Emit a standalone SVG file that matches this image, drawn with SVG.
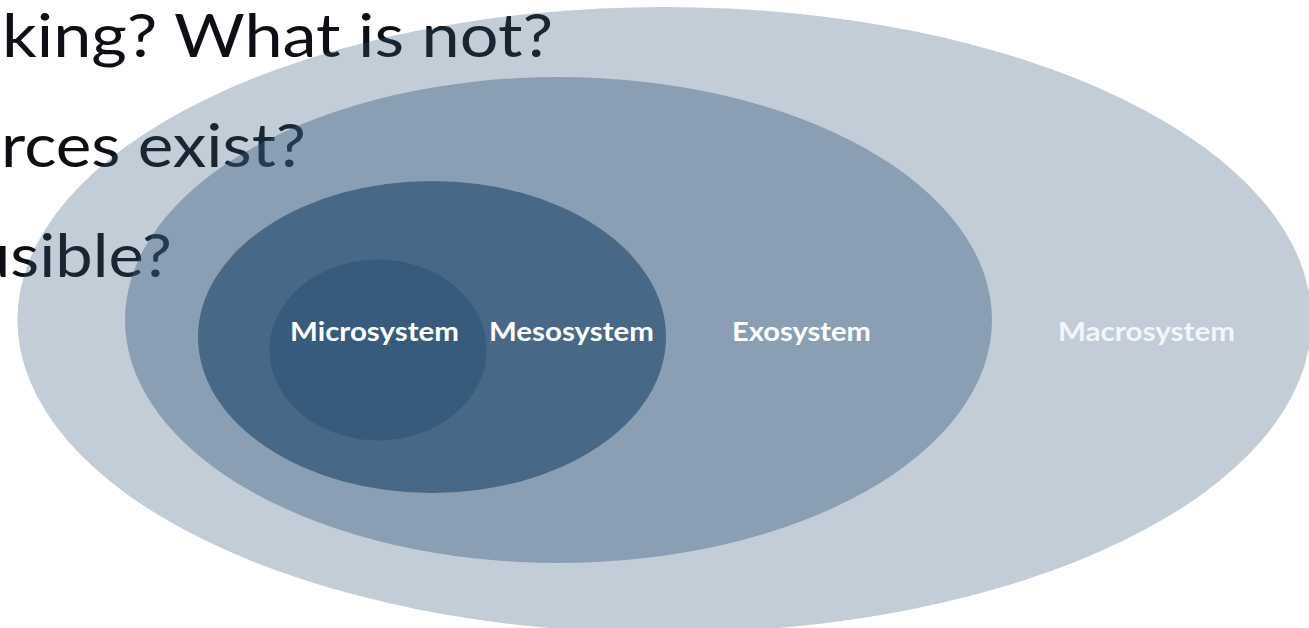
<svg xmlns="http://www.w3.org/2000/svg" width="1309" height="628" viewBox="0 0 1309 628">
  <style>
    .bg-text { font-family: "Lato", "Liberation Sans", sans-serif; font-size: 60px; fill: #0c1014; }
    .ring { fill: #365b7c; }
    .label { font-family: "Lato", "Open Sans", "Liberation Sans", sans-serif; font-size: 27px; font-weight: bold; fill: #ffffff; text-anchor: start; }
  </style>
  <rect width="1309" height="628" fill="#ffffff"/>
  <g id="slide-text">
    <text class="bg-text" x="2" y="57" textLength="551" lengthAdjust="spacingAndGlyphs">king? What is not?</text>
    <text class="bg-text" x="1" y="167" textLength="305" lengthAdjust="spacingAndGlyphs">rces exist?</text>
    <text class="bg-text" x="-27" y="277" textLength="199" lengthAdjust="spacingAndGlyphs">usible?</text>
  </g>
  <g id="macrosystem">
    <ellipse class="ring" cx="664.5" cy="320" rx="647" ry="313" fill-opacity="0.3"/>
    <text class="label" x="1058" y="341" textLength="177" lengthAdjust="spacingAndGlyphs" fill="#f3f6f9" style="fill:#f3f6f9">Macrosystem</text>
  </g>
  <g id="exosystem">
    <ellipse class="ring" cx="558.5" cy="320" rx="433.5" ry="243" fill-opacity="0.4"/>
    <text class="label" x="732" y="341" textLength="139" lengthAdjust="spacingAndGlyphs">Exosystem</text>
  </g>
  <g id="mesosystem">
    <ellipse class="ring" cx="432" cy="337" rx="234" ry="156" fill-opacity="0.8"/>
    <text class="label" x="489" y="341" textLength="165" lengthAdjust="spacingAndGlyphs">Mesosystem</text>
  </g>
  <g id="microsystem">
    <ellipse class="ring" cx="378" cy="350" rx="108.5" ry="90.5"/>
    <text class="label" x="290" y="341" textLength="169" lengthAdjust="spacingAndGlyphs">Microsystem</text>
  </g>
  <g id="connectors"/>
</svg>
